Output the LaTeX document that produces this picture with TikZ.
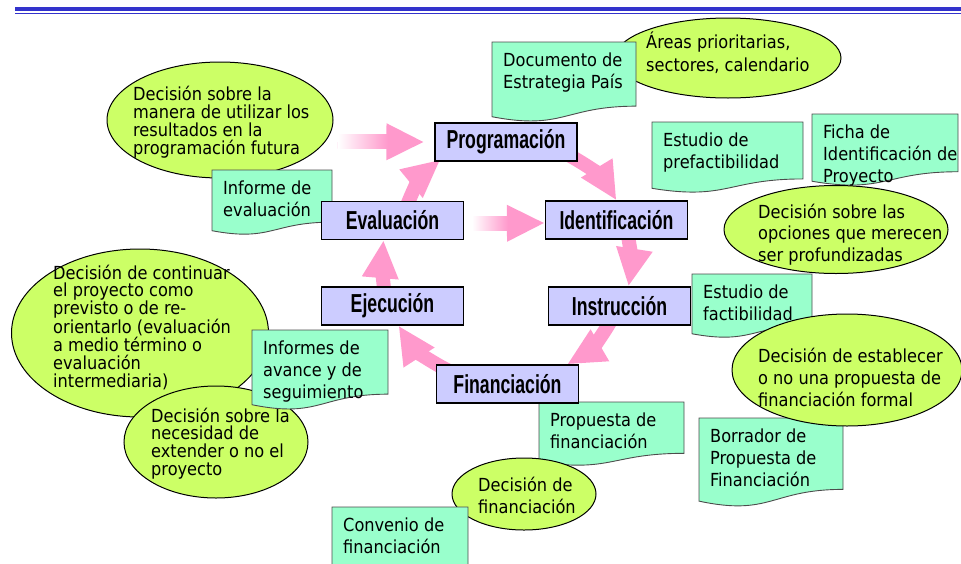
\documentclass[tikz,border=0pt]{standalone}
\usepackage{fontspec}
\usetikzlibrary{shapes.geometric,arrows.meta,backgrounds}

\newfontfamily\notefont{DejaVu Sans Condensed}
\newfontfamily\stagefont{Liberation Sans}[FakeStretch=0.68]

\definecolor{stagefill}{RGB}{204,204,255}
\definecolor{notefill}{RGB}{153,255,204}
\definecolor{bubblefill}{RGB}{204,255,102}
\definecolor{cyclepink}{RGB}{255,153,204}
\definecolor{rulerblue}{RGB}{51,51,204}

% lines of a text block, first baseline on the node's base
\newcommand\txtlines[2]{\parbox[t]{260pt}{\fontsize{18}{#1}\selectfont\raggedright #2}}

% document shape: name, left, top, width, height, text
\newcommand\docnote[6]{%
  \draw[notebox] (#2,#3) -- ({#2+#4},#3) -- ({#2+#4},{#3+0.802*#5})
    .. controls ({#2+0.5*#4},{#3+0.802*#5}) and ({#2+0.5*#4},{#3+1.107*#5}) .. (#2,{#3+0.934*#5}) -- cycle;
  \node[words] (#1) at ({#2+11},{#3+24}) {\txtlines{22}{#6}};
}

\begin{document}
\begin{tikzpicture}[x=1pt,y=-1pt,
  stage/.style={draw=black, line width=1.2pt, fill=stagefill, minimum width=142pt,
    minimum height=38pt, inner sep=0pt, font=\stagefont\bfseries\fontsize{26}{26}\selectfont},
  bubble/.style={ellipse, draw=black, line width=1pt, fill=bubblefill, inner sep=0pt},
  notebox/.style={draw=black!70, line width=0.9pt, fill=notefill},
  words/.style={inner sep=0pt, anchor=base west, font=\notefont},
  cyc/.style={draw=cyclepink, line width=14pt, -{Triangle[width=34pt,length=38pt]}}]
  \useasboundingbox (0,0) rectangle (961,563);

  % title rule
  \draw[rulerblue, line width=3.5pt] (15,9) -- (961,9);
  \draw[rulerblue, line width=1.2pt] (15,13.5) -- (961,13.5);

  % evaluation side
  \node[bubble, minimum width=226pt, minimum height=116pt] (futura) at (220,120) {};
  \node[words] (futuraText) at (133,100) {\txtlines{18}{Decisión sobre la\\manera de utilizar los\\resultados en la\\programación futura}};
  \docnote{informeEval}{212}{170}{120}{65}{Informe de\\evaluación}

  \node[bubble, minimum width=257pt, minimum height=168pt] (continuar) at (140,333) {};
  \node[words] (continuarText) at (53,279) {\txtlines{17.8}{Decisión de continuar\\el proyecto como\\previsto o de re-\\orientarlo (evaluación\\a medio término o\\evaluación\\intermediaria)}};
  \node[bubble, minimum width=184pt, minimum height=112pt] (extender) at (216,442) {};
  \node[words] (extenderText) at (151,422) {\txtlines{17.7}{Decisión sobre la\\necesidad de\\extender o no el\\proyecto}};
  \docnote{avance}{252}{330}{136}{80}{Informes de\\avance y de\\seguimiento}

  % programming and identification side
  \node[bubble, minimum width=226pt, minimum height=80pt] (areas) at (728,58) {};
  \node[words] (areasText) at (646,48) {\txtlines{23}{Áreas prioritarias,\\sectores, calendario}};
  \docnote{estrategia}{492}{42}{144}{80}{Documento de\\Estrategia País}

  \docnote{ficha}{812}{114}{146}{72}{Ficha de\\Identificación de\\Proyecto}
  \docnote{prefact}{652}{122}{151}{71}{Estudio de\\prefactibilidad}
  \node[bubble, minimum width=224pt, minimum height=88pt] (opciones) at (836,229.5) {};
  \node[words] (opcionesText) at (758,218) {\txtlines{21.5}{Decisión sobre las\\opciones que merecen\\ser profundizadas}};

  % instruction and financing side
  \docnote{factib}{692}{274}{120}{64}{Estudio de\\factibilidad}
  \docnote{borrador}{699}{418}{144}{89}{Borrador de\\Propuesta de\\Financiación}
  \node[bubble, minimum width=230pt, minimum height=112pt] (establecer) at (847,370) {};
  \node[words] (establecerText) at (758,362) {\txtlines{22}{Decisión de establecer\\o no una propuesta de\\financiación formal}};

  \docnote{propuesta}{539}{402}{145}{64}{Propuesta de\\financiación}
  \node[bubble, minimum width=144pt, minimum height=72pt] (decFin) at (524,494) {};
  \node[words] (decFinText) at (478,491) {\txtlines{22}{Decisión de\\financiación}};
  \docnote{convenio}{332}{507}{136}{75}{Convenio de\\financiación}

  % stages
  \node[stage] (prog)  at (506,142)   {Programación};
  \node[stage] (ident) at (616.5,220) {Identificación};
  \node[stage] (instr) at (619.5,306) {Instrucción};
  \node[stage] (fin)   at (507.5,384) {Financiación};
  \node[stage] (ejec)  at (392.5,306) {Ejecución};
  \node[stage] (eval)  at (392.5,220.5) {Evaluación};

  \begin{scope}[on background layer]
    % cycle
    \draw[cyc] ([xshift=-8pt,yshift=6pt]prog.south east) to[bend left=15] (ident.north);
    \draw[cyc] ([xshift=11pt,yshift=6pt]ident.south) to[bend left=10] ([xshift=9pt]instr.north);
    \draw[cyc] ([xshift=-8pt,yshift=6pt]instr.south) to[bend left=15] ([xshift=-12pt]fin.north east);
    \draw[cyc] ([xshift=12pt,yshift=-6pt]fin.north west) to[bend left=15] ([xshift=6pt]ejec.south);
    \draw[cyc] ([xshift=-8pt,yshift=-6pt]ejec.north) to[bend left=6] ([xshift=-9pt]eval.south);
    \draw[cyc] ([xshift=14pt,yshift=-6pt]eval.north) to[bend left=15] ([xshift=6pt,yshift=2pt]prog.south west);

    % feedback arrows
    \coordinate (fromFutura) at (338,141.5);
    \draw[cyc] (fromFutura) -- ([xshift=-10pt]prog.west);
    \shade[left color=white, right color=cyclepink] (338,134.5) rectangle (388,148.5);
    \draw[cyc] ([xshift=9pt,yshift=-3pt]eval.east) -- ([yshift=-3pt]ident.west);
    \shade[left color=white, right color=cyclepink] (472,216.5) rectangle (508,230.5);
  \end{scope}
\end{tikzpicture}
\end{document}
